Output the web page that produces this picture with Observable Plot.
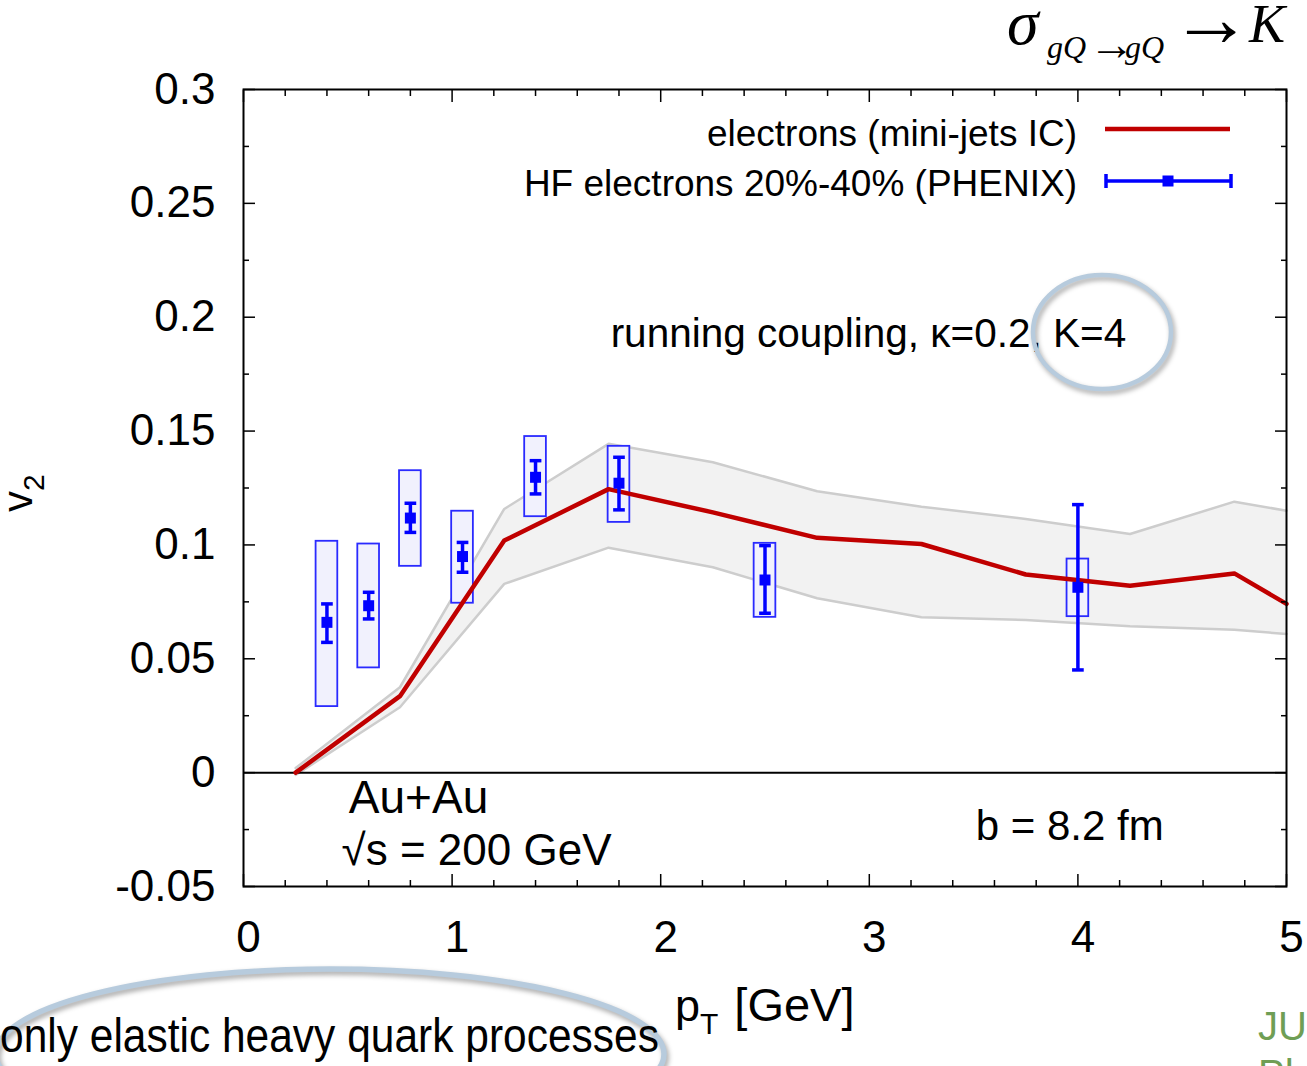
<!DOCTYPE html>
<html><head><meta charset="utf-8">
<script src="https://cdn.jsdelivr.net/npm/d3@7"></script>
<script src="https://cdn.jsdelivr.net/npm/@observablehq/plot@0.6"></script>
<style>
html,body{margin:0;padding:0;background:#fff;overflow:hidden}
#chart svg{display:block}
</style>
</head><body><div id="chart"></div>
<script>
// ---- model curve (electrons, mini-jets IC) and its uncertainty band
const bandPt  = [0.25, 0.75, 1.25, 1.75, 2.25, 2.75, 3.25, 3.75, 4.25, 4.75, 5.0];
const curveV2 = [0.000, 0.0336, 0.1019, 0.1245, 0.1143, 0.1031, 0.1004, 0.0870, 0.0821, 0.0875, 0.0741];
const bandHi  = [0.002, 0.0375, 0.1158, 0.1444, 0.1363, 0.1236, 0.1168, 0.1114, 0.1048, 0.1190, 0.1150];
const bandLo  = [-0.001, 0.0287, 0.0829, 0.0988, 0.0902, 0.0766, 0.0682, 0.0670, 0.0643, 0.0627, 0.0609];

// ---- PHENIX HF electrons 20%-40%
const dataPt = [0.4, 0.6, 0.8, 1.05, 1.4, 1.8, 2.5, 4.0];
const dataV2 = [0.0660, 0.0733, 0.1118, 0.0949, 0.1297, 0.1271, 0.0846, 0.0814];
const statHi = [0.0741, 0.0792, 0.1183, 0.1011, 0.1370, 0.1385, 0.0997, 0.1177];
const statLo = [0.0572, 0.0675, 0.1055, 0.0880, 0.1224, 0.1154, 0.0700, 0.0451];
const sysHi  = [0.1016, 0.1004, 0.1326, 0.1148, 0.1476, 0.1433, 0.1007, 0.0938];
const sysLo  = [0.0290, 0.0460, 0.0906, 0.0744, 0.1124, 0.1099, 0.0682, 0.0685];

// ---- ticks
const xMajor = [0, 1, 2, 3, 4, 5];
const xMinor = [0.2,0.4,0.6,0.8,1.2,1.4,1.6,1.8,2.2,2.4,2.6,2.8,3.2,3.4,3.6,3.8,4.2,4.4,4.6,4.8];
const xLabels = ["0","1","2","3","4","5"];
const yMajor = [-0.05, 0, 0.05, 0.1, 0.15, 0.2, 0.25, 0.3];
const yMinor = [-0.025, 0.025, 0.075, 0.125, 0.175, 0.225, 0.275];
const yLabels = ["-0.05","0","0.05","0.1","0.15","0.2","0.25","0.3"];

// ---- texts
const legendLabels = ["electrons (mini-jets IC)", "HF electrons 20%-40% (PHENIX)"];
const noteCoupling = "running coupling, κ=0.2, K=4";
const noteSystem = ["Au+Au", "√s = 200 GeV"];
const noteB = "b = 8.2 fm";
const noteBottom = "only elastic heavy quark processes";

const band = bandPt.map((pt, i) => ({pt, v2: curveV2[i], hi: bandHi[i], lo: bandLo[i]}));
const pts = dataPt.map((pt, i) => ({pt, v2: dataV2[i], statHi: statHi[i], statLo: statLo[i], sysHi: sysHi[i], sysLo: sysLo[i]}));

const boxHalf = 0.052, capHalf = 0.028;
const RED = "#c00000", BLUE = "#0000ff";
const SANS = "'Liberation Sans', Arial, Helvetica, sans-serif";
const SERIF = "'Liberation Serif', 'Times New Roman', serif";

function decorations() {
  const g = d3.create("svg:g").attr("text-anchor", "start");
  // title sigma_{gQ->gQ} -> K
  const t = g.append("text").attr("font-family", SERIF).attr("fill", "#000").attr("text-anchor", "start");
  t.append("tspan").attr("x", 1007).attr("y", 44).attr("font-size", 64).attr("font-style", "italic").text("σ");
  t.append("tspan").attr("x", 1047).attr("y", 58).attr("font-size", 32).attr("font-style", "italic").text("gQ");
  t.append("tspan").attr("x", 1089).attr("y", 60).attr("font-size", 46).text("→");
  t.append("tspan").attr("x", 1125).attr("y", 58).attr("font-size", 32).attr("font-style", "italic").text("gQ");
  t.append("tspan").attr("x", 1170).attr("y", 46).attr("font-size", 82).text("→");
  t.append("tspan").attr("x", 1249).attr("y", 42).attr("font-size", 54).attr("font-style", "italic").text("K");

  // y label v_2 (rotated)
  const yl = g.append("text").attr("font-family", SANS).attr("text-anchor", "start")
    .attr("transform", "translate(32,512) rotate(-90)");
  yl.append("tspan").attr("font-size", 42).text("v");
  yl.append("tspan").attr("font-size", 30).attr("dy", 12).text("2");

  // x label p_T [GeV]
  const xl = g.append("text").attr("font-family", SANS).attr("text-anchor", "start").attr("x", 675).attr("y", 1021);
  xl.append("tspan").attr("font-size", 45).text("p");
  xl.append("tspan").attr("font-size", 30).attr("dy", 13).text("T");
  xl.append("tspan").attr("font-size", 47).attr("dy", -13).attr("dx", 16).text("[GeV]");

  // legend
  g.append("text").attr("font-family", SANS).attr("font-size", 37).attr("text-anchor", "end")
    .attr("x", 1077).attr("y", 146).text(legendLabels[0]);
  g.append("text").attr("font-family", SANS).attr("font-size", 37).attr("text-anchor", "end")
    .attr("x", 1077).attr("y", 196).text(legendLabels[1]);
  g.append("line").attr("x1", 1105).attr("x2", 1230).attr("y1", 129).attr("y2", 129)
    .attr("stroke", RED).attr("stroke-width", 4.5);
  g.append("line").attr("x1", 1106).attr("x2", 1231).attr("y1", 181).attr("y2", 181)
    .attr("stroke", BLUE).attr("stroke-width", 3.5);
  for (const cx of [1106, 1231])
    g.append("line").attr("x1", cx).attr("x2", cx).attr("y1", 174).attr("y2", 188)
      .attr("stroke", BLUE).attr("stroke-width", 3.5);
  g.append("rect").attr("x", 1162.5).attr("y", 175.5).attr("width", 11).attr("height", 11).attr("fill", BLUE);

  // highlight ellipses
  const shadow = "drop-shadow(2px 3px 2.5px rgba(0,0,0,0.35))";
  g.append("ellipse").attr("cx", 1102).attr("cy", 332).attr("rx", 69).attr("ry", 57)
    .attr("fill", "none").attr("stroke", "#b7cbdd").attr("stroke-width", 4.5).style("filter", shadow);
  g.append("ellipse").attr("cx", 330).attr("cy", 1054).attr("rx", 334).attr("ry", 85)
    .attr("fill", "none").attr("stroke", "#b7cbdd").attr("stroke-width", 5.5).style("filter", shadow);

  // bottom note
  g.append("text").attr("font-family", SANS).attr("font-size", 42.5).attr("text-anchor", "start")
    .attr("transform", "translate(0,1052) scale(1,1.12)").text(noteBottom);
  // partially visible slide text
  g.append("text").attr("font-family", SANS).attr("font-size", 40).attr("fill", "#6f9e55").attr("text-anchor", "start")
    .attr("x", 1258).attr("y", 1040).text("JU");
  g.append("text").attr("font-family", SANS).attr("font-size", 40).attr("fill", "#6f9e55").attr("text-anchor", "start")
    .attr("x", 1258).attr("y", 1088).text("Ph");
  return g.node();
}

const chart = Plot.plot({
  width: 1307, height: 1066,
  marginLeft: 243, marginRight: 21, marginTop: 89, marginBottom: 180,
  x: {domain: [0, 5]},
  y: {domain: [-0.05, 0.3]},
  style: {fontFamily: SANS, background: "#fff", color: "#000", overflow: "visible"},
  marks: [
    Plot.areaY(band, {x: "pt", y1: "lo", y2: "hi", fill: "#f2f2f2"}),
    Plot.line(band, {x: "pt", y: "hi", stroke: "#cdcdcd", strokeWidth: 2.5}),
    Plot.line(band, {x: "pt", y: "lo", stroke: "#cdcdcd", strokeWidth: 2.5}),
    Plot.ruleY([0], {stroke: "#000", strokeWidth: 2}),
    Plot.rect(pts, {x1: d => d.pt - boxHalf, x2: d => d.pt + boxHalf, y1: "sysLo", y2: "sysHi",
      fill: "#f1f1fd", stroke: "#2a2aff", strokeWidth: 1.8}),
    Plot.line(band, {x: "pt", y: "v2", stroke: RED, strokeWidth: 4.5}),
    Plot.ruleX(pts, {x: "pt", y1: "statLo", y2: "statHi", stroke: BLUE, strokeWidth: 3.5}),
    Plot.link(pts, {x1: d => d.pt - capHalf, x2: d => d.pt + capHalf, y1: "statHi", y2: "statHi", stroke: BLUE, strokeWidth: 3.5}),
    Plot.link(pts, {x1: d => d.pt - capHalf, x2: d => d.pt + capHalf, y1: "statLo", y2: "statLo", stroke: BLUE, strokeWidth: 3.5}),
    Plot.dot(pts, {x: "pt", y: "v2", symbol: "square", r: 6.2, fill: BLUE, stroke: null}),
    Plot.frame({stroke: "#000", strokeWidth: 2}),
    // inward ticks on all four sides
    Plot.axisX(xMajor, {anchor: "bottom", tickSize: -12, tickFormat: () => "", label: null, strokeWidth: 1.5}),
    Plot.axisX(xMinor, {anchor: "bottom", tickSize: -6, tickFormat: () => "", label: null, strokeWidth: 1.5}),
    Plot.axisX(xMajor, {anchor: "top", tickSize: -12, tickFormat: () => "", label: null, strokeWidth: 1.5}),
    Plot.axisX(xMinor, {anchor: "top", tickSize: -6, tickFormat: () => "", label: null, strokeWidth: 1.5}),
    Plot.axisY(yMajor, {anchor: "left", tickSize: -12, tickFormat: () => "", label: null, strokeWidth: 1.5}),
    Plot.axisY(yMinor, {anchor: "left", tickSize: -6, tickFormat: () => "", label: null, strokeWidth: 1.5}),
    Plot.axisY(yMajor, {anchor: "right", tickSize: -12, tickFormat: () => "", label: null, strokeWidth: 1.5}),
    Plot.axisY(yMinor, {anchor: "right", tickSize: -6, tickFormat: () => "", label: null, strokeWidth: 1.5}),
    // tick labels
    Plot.axisX(xMajor, {anchor: "bottom", tickSize: 0, tickPadding: 34, fontSize: 44, dx: 5, label: null,
      tickFormat: (d) => xLabels[xMajor.indexOf(d)]}),
    Plot.axisY(yMajor, {anchor: "left", tickSize: 0, tickPadding: 28, fontSize: 44, label: null,
      tickFormat: (d) => yLabels[yMajor.indexOf(d)]}),
    // in-plot annotations
    Plot.text([noteCoupling], {x: 1.76, y: 0.1928, text: d => d, textAnchor: "start", fontSize: 40.5}),
    Plot.text([noteSystem[0]], {x: 0.505, y: -0.0114, text: d => d, textAnchor: "start", fontSize: 46}),
    Plot.text([noteSystem[1]], {x: 0.47, y: -0.0343, text: d => d, textAnchor: "start", fontSize: 44}),
    Plot.text([noteB], {x: 3.51, y: -0.0237, text: d => d, textAnchor: "start", fontSize: 42}),
    decorations
  ]
});
document.getElementById("chart").appendChild(chart);
</script>
</body></html>
